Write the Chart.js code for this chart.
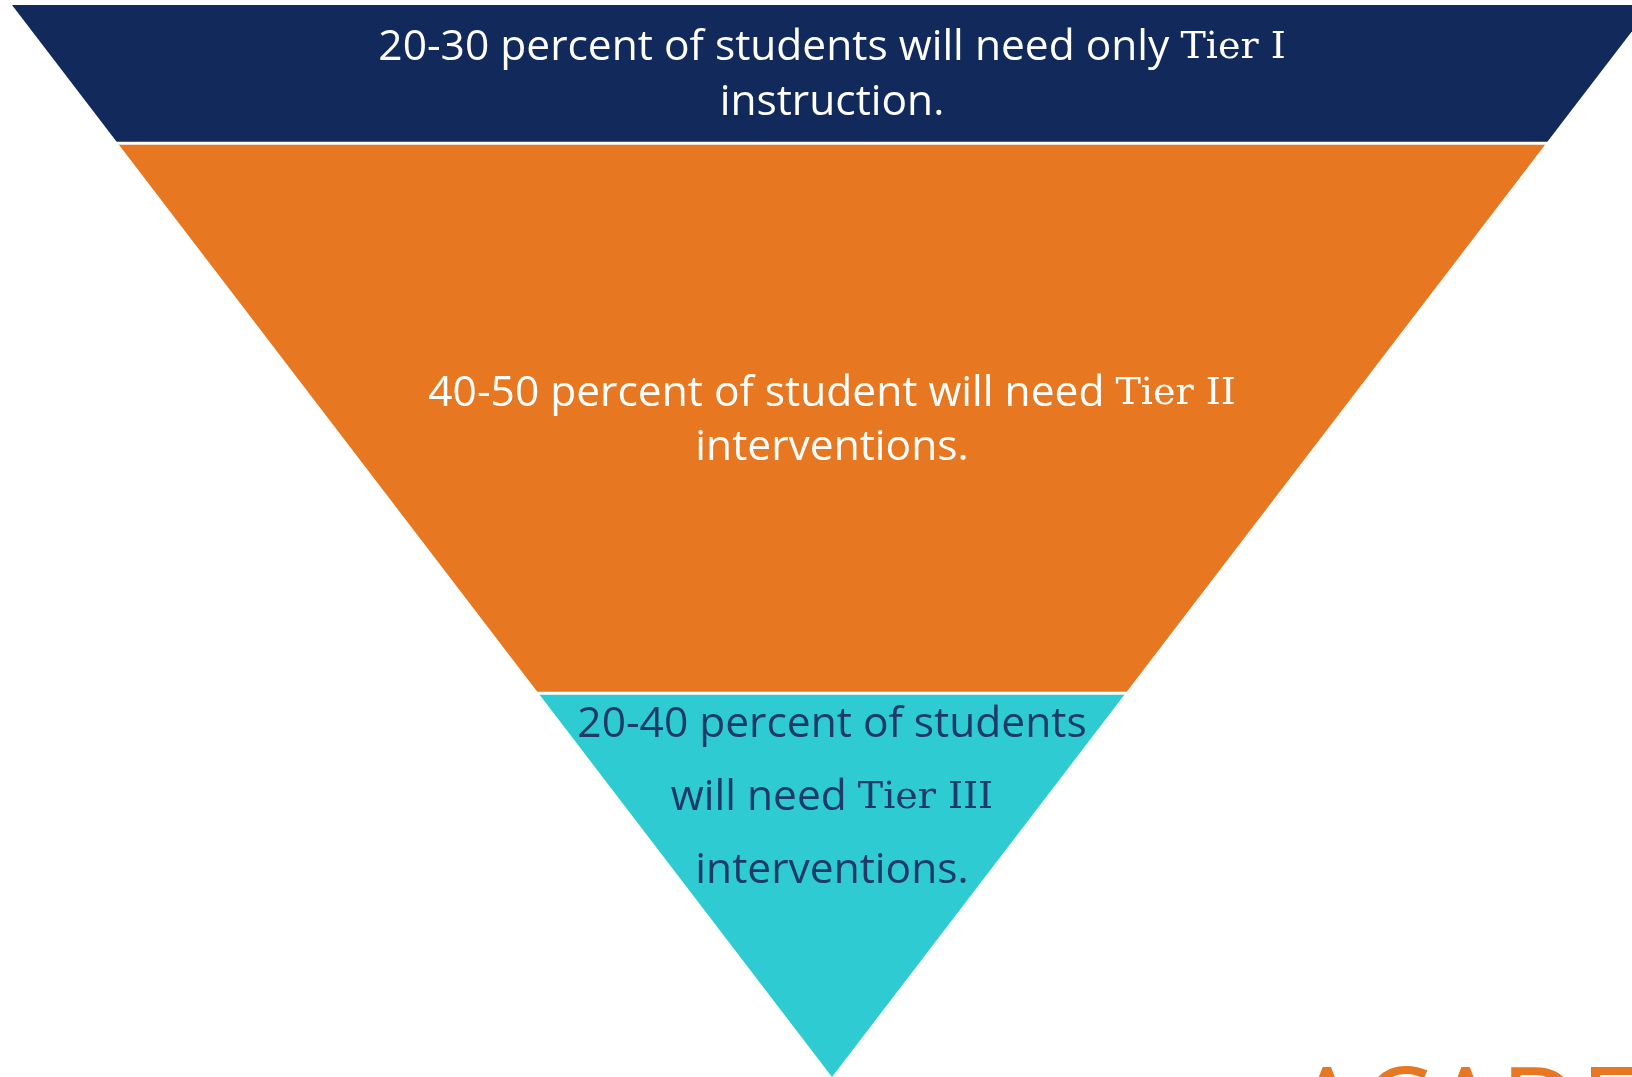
<!DOCTYPE html>
<html>
<head>
<meta charset="utf-8">
<script src="https://cdn.jsdelivr.net/npm/chart.js@4.4.0/dist/chart.umd.min.js"></script>
<style>
  html, body { margin: 0; padding: 0; background: #fff; overflow: hidden; }
  #wrap { width: 1632px; height: 1077px; position: relative; }
</style>
</head>
<body>
<div id="wrap"><canvas id="funnelChart" width="1632" height="1077"></canvas></div>
<script>
// tiers, top to bottom
const tiers = ['Tier I', 'Tier II', 'Tier III'];
// share of the triangle's height taken by each tier (percent)
const bandShares = [12.9, 51.3, 35.8];
const tierText = [
  ['20-30 percent of students will need only Tier I', 'instruction.'],
  ['40-50 percent of student will need Tier II', 'interventions.'],
  ['20-40 percent of students', 'will need Tier III', 'interventions.']
];

const tierColors = ['#112a5b', '#e77721', '#2ecbd3'];
const textColors = ['#ffffff', '#ffffff', '#1e3a66'];
// depth (0-100) of each text line's centre
const textDepths = [[4.0, 9.1], [36.3, 41.3], [67.2, 74.0, 80.8]];
const fontSize = 42.5;

// build each tier as a closed trapezoid cut from the inverted triangle
let depth = 0;
const datasets = [];
const dividers = [];
tiers.forEach((t, i) => {
  const d0 = depth, d1 = depth + bandShares[i];
  depth = d1;
  const w0 = 1 - d0 / 100, w1 = 1 - d1 / 100;
  datasets.push({
    label: t,
    data: [{x: -w0, y: d0}, {x: w0, y: d0}, {x: w1, y: d1}, {x: -w1, y: d1}, {x: -w0, y: d0}],
    showLine: true,
    fill: 'shape',
    backgroundColor: tierColors[i],
    borderColor: tierColors[i],
    borderWidth: 0,
    pointRadius: 0,
    tension: 0,
    clip: false,
    order: 2
  });
  if (i < tiers.length - 1) {
    // white divider along the boundary with the next tier
    dividers.push({
      label: t + ' divider',
      data: [{x: -w1 - 0.01, y: d1}, {x: w1 + 0.01, y: d1}],
      showLine: true,
      fill: false,
      borderColor: '#ffffff',
      borderWidth: 3,
      pointRadius: 0,
      clip: false,
      order: 1
    });
  }
});

const sans = '"Open Sans", "Noto Sans", sans-serif';
const serif = '"DejaVu Serif", serif';

function drawLine(ctx, text, cx, cy, size, color) {
  // "Tier ..." is set in a serif face in the original
  const parts = text.split(/(Tier I+)/).filter(s => s.length);
  const fonts = parts.map(p => /^Tier/.test(p) ? Math.round(size * 0.9) + 'px ' + serif : size + 'px ' + sans);
  let total = 0;
  const widths = parts.map((p, k) => { ctx.font = fonts[k]; const w = ctx.measureText(p).width; total += w; return w; });
  let x = cx - total / 2;
  ctx.fillStyle = color;
  ctx.textBaseline = 'middle';
  ctx.textAlign = 'left';
  parts.forEach((p, k) => { ctx.font = fonts[k]; ctx.fillText(p, x, cy); x += widths[k]; });
}

const labelPlugin = {
  id: 'tierLabels',
  afterDatasetsDraw(chart) {
    const ctx = chart.ctx;
    const {x, y} = chart.scales;
    ctx.save();
    tierText.forEach((lines, i) => {
      lines.forEach((line, j) => {
        drawLine(ctx, line, x.getPixelForValue(0), y.getPixelForValue(textDepths[i][j]), fontSize, textColors[i]);
      });
    });
    // cut-off wordmark at the lower right
    ctx.font = '400 110px ' + sans;
    ctx.fillStyle = '#e77721';
    ctx.textBaseline = 'alphabetic';
    ctx.fillText('ACADE', 1292, 1146);
    ctx.restore();
  }
};

const funnelConfig = {
  type: 'scatter',
  data: { datasets: datasets.concat(dividers) },
  options: {
    responsive: false,
    animation: false,
    layout: { padding: { top: 5, left: 0, right: 0, bottom: 0 } },
    plugins: {
      legend: { display: false },
      tooltip: { enabled: false },
      title: { display: false }
    },
    scales: {
      x: { type: 'linear', min: -832 / 820, max: 800 / 820, display: false },
      y: { type: 'linear', min: 0, max: 100, reverse: true, display: false }
    }
  },
  plugins: [labelPlugin]
};

const funnelChart = new Chart(document.getElementById('funnelChart'), funnelConfig);
</script>
</body>
</html>
